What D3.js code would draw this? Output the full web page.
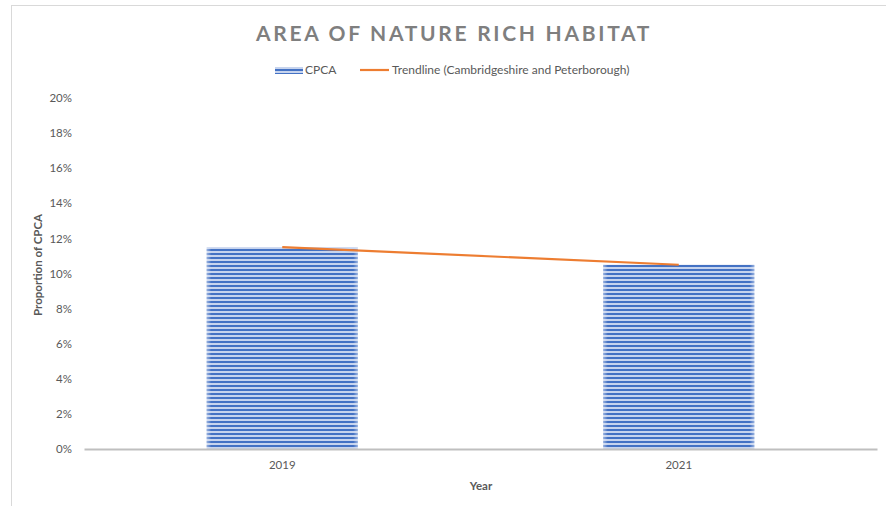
<!DOCTYPE html>
<html>
<head>
<meta charset="utf-8">
<script src="https://cdn.jsdelivr.net/npm/d3@7/dist/d3.min.js"></script>
<style>
  html, body { margin: 0; padding: 0; background: #fff; }
  svg { display: block; font-family: Lato, "Open Sans", sans-serif; }
</style>
</head>
<body>
<svg id="chart" width="886" height="506"></svg>
<script>
const categories = ["2019", "2021"];
const cpcaValues = [0.115, 0.105];
const trendValues = [0.115, 0.105];
const yTicks = [0, 0.02, 0.04, 0.06, 0.08, 0.10, 0.12, 0.14, 0.16, 0.18, 0.20];
const titleText = "AREA OF NATURE RICH HABITAT";
const seriesNames = ["CPCA", "Trendline (Cambridgeshire and Peterborough)"];
const xTitle = "Year";
const yTitle = "Proportion of CPCA";

const svg = d3.select("#chart");
const W = 886, H = 506;
const m = { left: 84, right: 9, top: 98, bottom: 57 };

// chart frame
svg.append("rect").attr("x", 11.5).attr("y", 5.5).attr("width", W).attr("height", H)
  .attr("fill", "none").attr("stroke", "#d9d9d9").attr("stroke-width", 1);

// stripe pattern
const defs = svg.append("defs");
const pat = defs.append("pattern").attr("id", "stripes").attr("patternUnits", "userSpaceOnUse")
  .attr("width", 8).attr("height", 4).attr("y", 1);
pat.append("rect").attr("width", 8).attr("height", 4).attr("fill", "#c7d4ee");
pat.append("rect").attr("y", 0).attr("width", 8).attr("height", 2).attr("fill", "#4472c4");
const grad = defs.append("linearGradient").attr("id", "edge").attr("x1", 0).attr("x2", 1);
[[0, 0.55], [0.03, 0], [0.97, 0], [1, 0.55]].forEach(([o, a]) =>
  grad.append("stop").attr("offset", o).attr("stop-color", "#dfe6f5").attr("stop-opacity", a));

const x = d3.scaleBand().domain(categories).range([m.left, W - m.right])
  .paddingInner(0.619).paddingOuter(0.3095);
const y = d3.scaleLinear().domain([0, 0.2]).range([H - m.bottom, m.top]);

// title
svg.append("text").attr("x", 454).attr("y", 41).attr("text-anchor", "middle")
  .attr("font-size", 21).attr("font-weight", "bold").attr("fill", "#7f7f7f")
  .attr("letter-spacing", 2.7).text(titleText);

// y axis labels
const yAxis = d3.axisLeft(y).tickValues(yTicks).tickFormat(d3.format(".0%")).tickSize(0).tickPadding(12);
const gy = svg.append("g").attr("transform", `translate(${m.left},0)`).call(yAxis);
gy.select(".domain").remove();
gy.selectAll("text").attr("fill", "#595959").attr("font-size", 11.5).attr("font-family", "Lato, sans-serif");

// bars
svg.append("g").selectAll("rect.bar").data(categories).join("rect")
  .attr("class", "bar")
  .attr("x", d => x(d)).attr("width", x.bandwidth())
  .attr("y", (d, i) => y(cpcaValues[i])).attr("height", (d, i) => y(0) - y(cpcaValues[i]))
  .attr("fill", "url(#stripes)");
svg.append("g").selectAll("rect.edge").data(categories).join("rect")
  .attr("x", d => x(d)).attr("width", x.bandwidth())
  .attr("y", (d, i) => y(cpcaValues[i])).attr("height", (d, i) => y(0) - y(cpcaValues[i]))
  .attr("fill", "url(#edge)");

// x axis
const xAxis = d3.axisBottom(x).tickSize(0).tickPadding(12);
const gx = svg.append("g").attr("transform", `translate(0,${y(0)})`).call(xAxis);
gx.select(".domain").attr("stroke", "#bfbfbf").attr("stroke-width", 2);
gx.selectAll("text").attr("fill", "#595959").attr("font-size", 11.5).attr("font-family", "Lato, sans-serif");

// trendline
const line = d3.line().x(d => x(d.c) + x.bandwidth() / 2).y(d => y(d.v));
svg.append("path").datum(categories.map((c, i) => ({ c, v: trendValues[i] })))
  .attr("d", line).attr("fill", "none").attr("stroke", "#ed7d31").attr("stroke-width", 2.2);

// axis titles
svg.append("text").attr("x", 481).attr("y", 490).attr("text-anchor", "middle")
  .attr("font-size", 11.5).attr("font-weight", "bold").attr("fill", "#595959").text(xTitle);
svg.append("text").attr("transform", `translate(42,265) rotate(-90)`)
  .attr("text-anchor", "middle").attr("font-size", 11.5).attr("font-weight", "bold")
  .attr("fill", "#595959").text(yTitle);

// legend
const lg = svg.append("g");
const lgY = 70;
lg.append("rect").attr("x", 275).attr("y", lgY - 3).attr("width", 28).attr("height", 7)
  .attr("fill", "url(#stripes)");
lg.append("text").attr("x", 305).attr("y", lgY + 4).attr("font-size", 12).attr("fill", "#595959").text(seriesNames[0]);
lg.append("line").attr("x1", 360).attr("x2", 389).attr("y1", lgY).attr("y2", lgY)
  .attr("stroke", "#ed7d31").attr("stroke-width", 2.2);
lg.append("text").attr("x", 392).attr("y", lgY + 4).attr("font-size", 12).attr("fill", "#595959").text(seriesNames[1]);
</script>
</body>
</html>
